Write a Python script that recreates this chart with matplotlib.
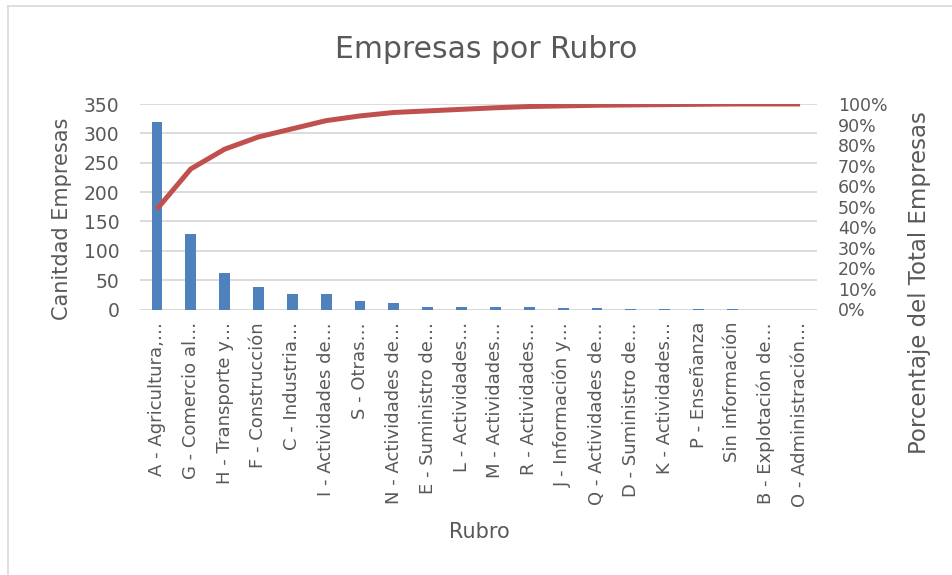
import matplotlib
matplotlib.use("Agg")
import matplotlib.pyplot as plt
from matplotlib.ticker import PercentFormatter
import numpy as np

# data
rubros = ["A - Agricultura,…", "G - Comercio al…", "H - Transporte y…",
          "F - Construcción", "C - Industria…", "I - Actividades de…",
          "S - Otras…", "N - Actividades de…", "E - Suministro de…",
          "L - Actividades…", "M - Actividades…", "R - Actividades…",
          "J - Información y…", "Q - Actividades de…", "D - Suministro de…",
          "K - Actividades…", "P - Enseñanza", "Sin información",
          "B - Explotación de…", "O - Administración…"]
cantidad = [320, 128, 63, 39, 26, 26, 15, 11, 5, 5, 5, 4, 2, 2, 1, 1, 1, 1, 0, 0]

acumulado = np.cumsum(cantidad) / sum(cantidad)

gris = "#595959"
W, H = 953, 575
plt.rcParams['font.family'] = ['DejaVu Sans']

fig = plt.figure(figsize=(W/100, H/100), dpi=100)
ax = fig.add_axes([140/W, 1-309.5/H, 677/W, 205.5/H])

x = np.arange(len(rubros))
ax.bar(x, cantidad, width=0.32, color="#4f81bd", zorder=2)
ax.set_xlim(-0.5, len(rubros) - 0.5)
ax.set_ylim(0, 350)
ax.set_yticks(range(0, 351, 50))
ax.grid(axis="y", color="#d9d9d9", linewidth=1.3, zorder=0)
ax.set_axisbelow(True)
for s in ax.spines.values():
    s.set_visible(False)
ax.axhline(0, color="#d9d9d9", linewidth=1.3, zorder=1)
ax.tick_params(axis="y", length=0, labelsize=13.5, colors=gris, pad=15)
ax.tick_params(axis="x", length=0, labelsize=13, colors=gris, pad=9)
ax.set_xticks(x)
ax.set_xticklabels(rubros, rotation=90, fontsize=13, color=gris)

ax2 = ax.twinx()
ax2.plot(x, acumulado, color="#c0504d", linewidth=3.6, solid_capstyle="butt", zorder=3)
ax2.set_ylim(0, 1)
ax2.set_yticks(np.linspace(0, 1, 11))
ax2.yaxis.set_major_formatter(PercentFormatter(1.0, decimals=0))
for s in ax2.spines.values():
    s.set_visible(False)
ax2.tick_params(length=0, labelsize=12.5, colors=gris, pad=15)

# titles and axis labels placed like the reference
fig.text(486/W, 1-50/H, "Empresas por Rubro", ha="center", va="center",
         fontsize=21.5, color=gris)
fig.text(62/W, 1-219/H, "Canitdad Empresas", rotation=90, ha="center", va="center",
         fontsize=15, color=gris)
fig.text(920/W, 1-283/H, "Porcentaje del Total Empresas", rotation=90,
         ha="center", va="center", fontsize=16.5, color=gris)
fig.text(479/W, 1-532/H, "Rubro", ha="center", va="center", fontsize=15, color=gris)

# light border of the chart area
fig.add_artist(plt.Line2D([8/W, 8/W], [0, 1-6/H], transform=fig.transFigure,
                          color="#d9d9d9", linewidth=1.2))
fig.add_artist(plt.Line2D([8/W, 1], [1-6/H, 1-6/H], transform=fig.transFigure,
                          color="#d9d9d9", linewidth=1.2))

fig.savefig("out.png", dpi=100)
